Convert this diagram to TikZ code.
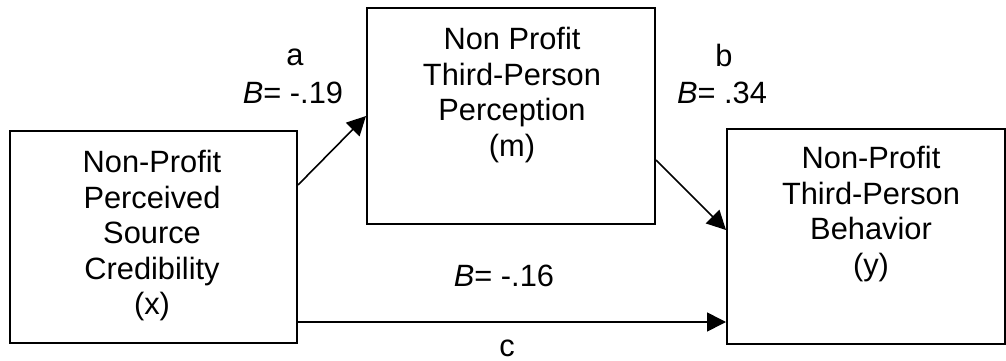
\documentclass[tikz,border=0pt]{standalone}
\usepackage{fontspec}
\setmainfont{Liberation Sans}
\usetikzlibrary{arrows.meta}

\tikzset{
    varbox/.style={draw, line width=2pt, minimum width=#1, inner sep=0pt},
    vartext/.style={anchor=north, align=center, inner sep=0pt},
    coef/.style={anchor=base, inner sep=0pt},
    effect/.style={line width=1.6pt, -{Triangle[length=19pt, width=19pt]}}
}

\begin{document}
\begin{tikzpicture}[x=1pt, y=1pt, font=\fontsize{30.8}{35.5}\selectfont]
    \useasboundingbox (0, 0) rectangle (1006, 360);

    % variables
    \node[varbox=287pt, minimum height=212pt] (x) at (153.5, 123) {};
    \node[varbox=288pt, minimum height=216pt] (m) at (511, 244) {};
    \node[varbox=278pt, minimum height=215pt] (y) at (866, 123.5) {};

    \node[vartext] (xtext) at (152, 210) {Non-Profit\\Perceived\\Source\\Credibility\\(x)};
    \node[vartext] (mtext) at (512, 333) {Non Profit\\Third-Person\\Perception\\(m)};
    \node[vartext] (ytext) at (871, 214) {Non-Profit\\Third-Person\\Behavior\\(y)};

    % paths
    \draw[effect] ([yshift=52pt]x.east) -- (m.west);
    \draw[effect] ([yshift=-44pt]m.east) -- ([yshift=6.5pt]y.west);
    \draw[effect] ([yshift=-85pt]x.east) -- ([yshift=-85.5pt]y.west);

    % coefficients
    \node[coef] (a) at (295, 295) {a};
    \node[coef] (aB) at (293, 257) {\textit{B}= -.19};
    \node[coef] (b) at (724, 294) {b};
    \node[coef] (bB) at (722, 257) {\textit{B}= .34};
    \node[coef] (cB) at (504, 74) {\textit{B}= -.16};
    \node[coef] (c) at (507, 3.5) {c};
\end{tikzpicture}
\end{document}
